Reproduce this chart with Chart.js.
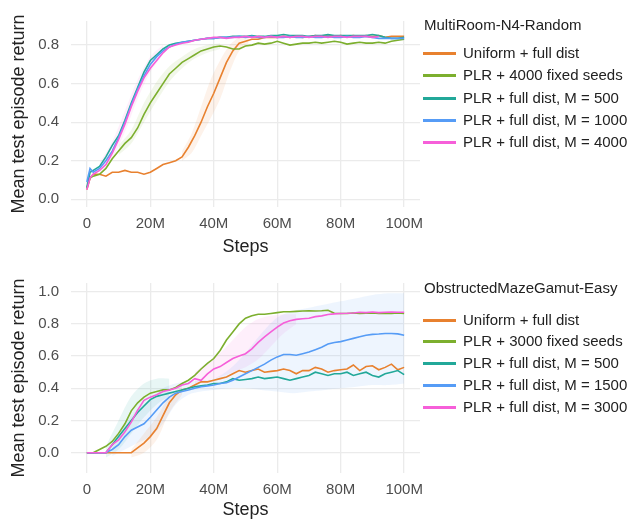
<!DOCTYPE html>
<html>
<head>
<meta charset="utf-8">
<script src="https://cdn.jsdelivr.net/npm/chart.js@4.4.1/dist/chart.umd.min.js"></script>
<style>
  html, body { margin: 0; padding: 0; background: #fff; }
  #wrap { position: relative; width: 638px; height: 523px; overflow: hidden; }
  canvas { position: absolute; left: 0; }
  .legend { position: absolute; left: 423px; font-family: "Liberation Sans", Arial, sans-serif; font-size: 15px; color: #222; }
  .legend .title { position: absolute; left: 1px; white-space: nowrap; line-height: 18px; }
  .legend .item { position: absolute; left: 0; white-space: nowrap; line-height: 18px; height: 18px; }
  .legend .swatch { position: absolute; left: 0; top: 8px; width: 33px; height: 3px; }
  .legend .label { position: absolute; left: 40px; top: 0; }
</style>
</head>
<body>
<div id="wrap">
  <canvas id="top-chart" width="638" height="260" style="top:0"></canvas>
  <canvas id="bottom-chart" width="638" height="263" style="top:260px"></canvas>
  <div class="legend" id="top-legend" style="top:0"></div>
  <div class="legend" id="bottom-legend" style="top:260px"></div>
</div>
<script>
// Steps in millions
const steps = [0, 1, 2, 4, 6, 8, 10, 12, 14, 16, 18, 20, 22, 24, 26, 28, 30, 32, 34, 36, 38, 40,
  42, 44, 46, 48, 50, 52, 54, 56, 58, 60, 62, 64, 66, 68, 70, 72, 74, 76, 78, 80,
  82, 84, 86, 88, 90, 92, 94, 96, 98, 100];

const xTicks = [0, 20, 40, 60, 80, 100];
const topYTicks = [0, 0.2, 0.4, 0.6, 0.8];
const bottomYTicks = [0, 0.2, 0.4, 0.6, 0.8, 1.0];

const colors = ['#e8812f', '#7caf2e', '#22a899', '#569cf6', '#f65fd9'];

// MultiRoom-N4-Random
const topTitle = 'MultiRoom-N4-Random';
const topLabels = ['Uniform + full dist', 'PLR + 4000 fixed seeds', 'PLR + full dist, M = 500',
  'PLR + full dist, M = 1000', 'PLR + full dist, M = 4000'];

const topUniform = [0.05, 0.11, 0.13, 0.13, 0.12, 0.14, 0.14, 0.15, 0.14, 0.14, 0.13, 0.14, 0.16, 0.18,
  0.19, 0.20, 0.22, 0.27, 0.33, 0.40, 0.48, 0.55, 0.63, 0.71, 0.77, 0.81, 0.82, 0.83, 0.83, 0.84,
  0.84, 0.84, 0.845, 0.84, 0.845, 0.84, 0.845, 0.85, 0.845, 0.85, 0.845, 0.85, 0.845, 0.85, 0.845,
  0.85, 0.845, 0.85, 0.84, 0.845, 0.845, 0.845];
const topFixed = [0.06, 0.11, 0.12, 0.13, 0.16, 0.21, 0.25, 0.29, 0.32, 0.37, 0.44, 0.50, 0.55, 0.60,
  0.65, 0.68, 0.71, 0.73, 0.75, 0.77, 0.78, 0.79, 0.795, 0.79, 0.78, 0.78, 0.795, 0.80, 0.81, 0.805,
  0.81, 0.82, 0.81, 0.80, 0.805, 0.81, 0.81, 0.815, 0.81, 0.815, 0.82, 0.815, 0.805, 0.81, 0.815,
  0.81, 0.81, 0.815, 0.81, 0.82, 0.825, 0.83];
const topM500 = [0.06, 0.14, 0.15, 0.17, 0.22, 0.28, 0.33, 0.41, 0.50, 0.58, 0.66, 0.72, 0.75, 0.78,
  0.80, 0.81, 0.815, 0.82, 0.825, 0.83, 0.835, 0.835, 0.84, 0.84, 0.845, 0.845, 0.845, 0.85, 0.845,
  0.845, 0.85, 0.85, 0.855, 0.85, 0.85, 0.85, 0.845, 0.85, 0.85, 0.855, 0.85, 0.85, 0.85, 0.85,
  0.85, 0.85, 0.855, 0.85, 0.84, 0.835, 0.835, 0.84];
const topM1000 = [0.09, 0.16, 0.14, 0.16, 0.20, 0.25, 0.32, 0.40, 0.49, 0.57, 0.64, 0.70, 0.74, 0.77,
  0.79, 0.805, 0.815, 0.82, 0.825, 0.83, 0.835, 0.835, 0.84, 0.84, 0.84, 0.845, 0.84, 0.845, 0.84,
  0.84, 0.845, 0.84, 0.84, 0.845, 0.84, 0.84, 0.845, 0.84, 0.84, 0.845, 0.84, 0.84, 0.845, 0.84,
  0.84, 0.845, 0.84, 0.835, 0.835, 0.835, 0.835, 0.835];
const topM4000 = [0.05, 0.11, 0.13, 0.15, 0.18, 0.24, 0.31, 0.39, 0.48, 0.56, 0.63, 0.68, 0.72, 0.76,
  0.79, 0.80, 0.81, 0.815, 0.825, 0.83, 0.835, 0.84, 0.84, 0.835, 0.84, 0.84, 0.845, 0.84, 0.845,
  0.84, 0.845, 0.84, 0.845, 0.84, 0.845, 0.845, 0.84, 0.845, 0.845, 0.84, 0.845, 0.845, 0.84, 0.845,
  0.845, 0.845, 0.84, 0.845, null, null, null, null];

// shaded spread bands (x in millions, lower, upper)
const topUniformBandX = [30, 33, 36, 39, 42, 45, 48, 51];
const topUniformBandLo = [0.20, 0.24, 0.33, 0.42, 0.52, 0.66, 0.77, 0.81];
const topUniformBandHi = [0.25, 0.34, 0.48, 0.62, 0.72, 0.80, 0.84, 0.85];
const topFixedBandX = [10, 14, 18, 22, 26, 30, 34, 38, 42];
const topFixedBandLo = [0.23, 0.29, 0.40, 0.51, 0.61, 0.68, 0.73, 0.76, 0.78];
const topFixedBandHi = [0.28, 0.36, 0.50, 0.61, 0.69, 0.74, 0.78, 0.80, 0.81];
const topM4000BandX = [4, 8, 12, 16, 20, 24];
const topM4000BandLo = [0.13, 0.21, 0.35, 0.52, 0.66, 0.75];
const topM4000BandHi = [0.19, 0.30, 0.46, 0.62, 0.74, 0.80];

// ObstructedMazeGamut-Easy
const bottomTitle = 'ObstructedMazeGamut-Easy';
const bottomLabels = ['Uniform + full dist', 'PLR + 3000 fixed seeds', 'PLR + full dist, M = 500',
  'PLR + full dist, M = 1500', 'PLR + full dist, M = 3000'];

const botUniform = [0, 0, 0, 0, 0, 0, 0, 0, 0, 0.03, 0.06, 0.10, 0.15, 0.23, 0.31, 0.36, 0.39, 0.40,
  0.42, 0.44, 0.44, 0.45, 0.46, 0.47, 0.49, 0.51, 0.50, 0.51, 0.52, 0.50, 0.505, 0.51, 0.52, 0.51,
  0.49, 0.51, 0.51, 0.53, 0.52, 0.50, 0.51, 0.515, 0.52, 0.545, 0.51, 0.535, 0.54, 0.515, 0.53,
  0.55, 0.515, 0.53];
const botFixed = [0, 0, 0, 0.02, 0.04, 0.07, 0.12, 0.18, 0.26, 0.31, 0.345, 0.37, 0.38, 0.39, 0.39,
  0.405, 0.43, 0.45, 0.48, 0.52, 0.555, 0.585, 0.635, 0.70, 0.75, 0.80, 0.835, 0.85, 0.86, 0.86,
  0.865, 0.87, 0.875, 0.875, 0.878, 0.88, 0.882, 0.88, 0.882, 0.885, 0.866, 0.865, 0.865, 0.868,
  0.865, 0.866, 0.868, 0.865, 0.866, 0.865, 0.868, 0.865];
const botM500 = [0, 0, 0, 0, 0, 0.05, 0.10, 0.15, 0.20, 0.25, 0.29, 0.33, 0.35, 0.36, 0.37, 0.38,
  0.39, 0.40, 0.41, 0.415, 0.42, 0.43, 0.43, 0.44, 0.46, 0.45, 0.455, 0.46, 0.47, 0.46, 0.465, 0.47,
  0.46, 0.45, 0.46, 0.47, 0.48, 0.50, 0.49, 0.48, 0.49, 0.49, 0.50, 0.48, 0.49, 0.50, 0.48, 0.47,
  0.49, 0.50, 0.51, 0.485];
const botM1500 = [0, 0, 0, 0, 0, 0.02, 0.05, 0.10, 0.14, 0.16, 0.18, 0.22, 0.265, 0.31, 0.345, 0.37,
  0.38, 0.39, 0.40, 0.41, 0.415, 0.42, 0.43, 0.435, 0.45, 0.47, 0.49, 0.51, 0.53, 0.55, 0.575, 0.595,
  0.61, 0.61, 0.605, 0.615, 0.625, 0.64, 0.655, 0.675, 0.685, 0.69, 0.70, 0.71, 0.72, 0.73, 0.735,
  0.737, 0.74, 0.74, 0.738, 0.73];
const botM3000 = [0, 0, 0, 0, 0, 0.05, 0.08, 0.13, 0.19, 0.265, 0.325, 0.345, 0.36, 0.38, 0.39, 0.40,
  0.42, 0.43, 0.46, 0.45, 0.49, 0.52, 0.535, 0.56, 0.585, 0.60, 0.615, 0.645, 0.685, 0.72, 0.75,
  0.78, 0.805, 0.82, 0.828, 0.832, 0.835, 0.845, 0.85, 0.858, 0.862, 0.865, 0.866, 0.868, 0.872,
  0.87, 0.874, 0.87, 0.872, 0.874, 0.872, 0.872];

const botUniformBandX = [14, 18, 22, 26, 30];
const botUniformBandLo = [-0.03, 0.0, 0.08, 0.25, 0.36];
const botUniformBandHi = [0.02, 0.12, 0.22, 0.35, 0.42];
const botM500BandX = [6, 10, 14, 18, 22, 26];
const botM500BandLo = [-0.03, 0.02, 0.12, 0.22, 0.30, 0.35];
const botM500BandHi = [0.04, 0.20, 0.35, 0.43, 0.46, 0.46];
const botM1500BandX = [8, 12, 16, 20, 24, 28, 32, 36, 40, 45, 50, 55, 60, 65, 70, 75, 80, 85, 90, 95, 100];
const botM1500BandLo = [-0.02, 0.02, 0.06, 0.10, 0.18, 0.30, 0.36, 0.38, 0.39, 0.40, 0.40, 0.39, 0.38,
  0.37, 0.38, 0.39, 0.40, 0.41, 0.42, 0.42, 0.43];
const botM1500BandHi = [0.05, 0.18, 0.27, 0.33, 0.40, 0.43, 0.44, 0.45, 0.46, 0.52, 0.62, 0.74, 0.84,
  0.88, 0.90, 0.92, 0.94, 0.96, 0.98, 0.99, 0.99];
const botM3000BandX = [34, 38, 42, 46, 50, 54, 58, 62, 66];
const botM3000BandLo = [0.42, 0.45, 0.47, 0.50, 0.53, 0.58, 0.66, 0.74, 0.80];
const botM3000BandHi = [0.50, 0.56, 0.62, 0.70, 0.78, 0.83, 0.85, 0.86, 0.86];

Chart.defaults.font.family = '"Liberation Sans", Arial, sans-serif';

function toPoints(xs, ys) {
    return xs.map((x, i) => ({ x: x, y: ys[i] }));
}

function hexToRgba(hex, a) {
    const n = parseInt(hex.slice(1), 16);
    return `rgba(${(n >> 16) & 255}, ${(n >> 8) & 255}, ${n & 255}, ${a})`;
}

function bandDatasets(xs, lo, hi, color) {
    return [
        { data: toPoints(xs, lo), borderWidth: 0, pointRadius: 0, fill: false, order: 10, tension: 0.3 },
        { data: toPoints(xs, hi), borderWidth: 0, pointRadius: 0, fill: '-1', order: 10, tension: 0.3,
          backgroundColor: hexToRgba(color, 0.1) }
    ];
}

function lineDataset(ys, idx) {
    return {
        data: toPoints(steps, ys),
        borderColor: colors[idx],
        borderWidth: 1.6,
        pointRadius: 0,
        fill: false,
        order: 5 - idx
    };
}

function makeChart(canvasId, series, bands, yMin, yMax, yTicks, topPad, xAxisHeight) {
    const datasets = [];
    bands.forEach(b => datasets.push(...bandDatasets(b[0], b[1], b[2], b[3])));
    series.forEach((s, i) => datasets.push(lineDataset(s, i)));

    return new Chart(document.getElementById(canvasId), {
        type: 'line',
        data: { datasets: datasets },
        options: {
            responsive: false,
            animation: false,
            devicePixelRatio: 1,
            layout: { padding: { left: 0, right: 218, top: topPad, bottom: 0 } },
            plugins: { legend: { display: false }, tooltip: { enabled: false } },
            scales: {
                x: {
                    type: 'linear',
                    min: -5,
                    max: 105,
                    afterBuildTicks: scale => { scale.ticks = xTicks.map(v => ({ value: v })); },
                    afterFit: scale => { scale.height = xAxisHeight; },
                    grid: { color: '#ebebeb', lineWidth: 1.3, drawTicks: false },
                    border: { display: false },
                    ticks: {
                        padding: 8,
                        color: '#4d4d4d',
                        font: { size: 15 },
                        callback: v => v === 0 ? '0' : v + 'M'
                    },
                    title: {
                        display: true,
                        text: 'Steps',
                        color: '#222',
                        font: { size: 18 },
                        padding: { top: 0, bottom: 2 }
                    }
                },
                y: {
                    min: yMin,
                    max: yMax,
                    afterBuildTicks: scale => { scale.ticks = yTicks.map(v => ({ value: v })); },
                    afterFit: scale => { scale.width = 71; },
                    grid: { color: '#ebebeb', lineWidth: 1.3, drawTicks: false },
                    border: { display: false },
                    ticks: {
                        padding: 12,
                        color: '#4d4d4d',
                        font: { size: 15 },
                        callback: v => v.toFixed(1)
                    },
                    title: {
                        display: true,
                        text: 'Mean test episode return',
                        color: '#222',
                        font: { size: 18 },
                        padding: { top: 8, bottom: 0 }
                    }
                }
            }
        }
    });
}

function buildLegend(elId, title, labels, titleY, itemYs) {
    const el = document.getElementById(elId);
    let html = `<div class="title" style="top:${titleY - 9}px">${title}</div>`;
    labels.forEach((label, i) => {
        html += `<div class="item" style="top:${itemYs[i] - 9}px">` +
            `<span class="swatch" style="background:${colors[i]}"></span>` +
            `<span class="label">${label}</span></div>`;
    });
    el.innerHTML = html;
}

makeChart('top-chart',
    [topUniform, topFixed, topM500, topM1000, topM4000],
    [
        [topUniformBandX, topUniformBandLo, topUniformBandHi, colors[0]],
        [topFixedBandX, topFixedBandLo, topFixedBandHi, colors[1]],
        [topM4000BandX, topM4000BandLo, topM4000BandHi, colors[4]]
    ],
    -0.04, 0.925, topYTicks, 15, 53);

makeChart('bottom-chart',
    [botUniform, botFixed, botM500, botM1500, botM3000],
    [
        [botUniformBandX, botUniformBandLo, botUniformBandHi, colors[0]],
        [botM500BandX, botM500BandLo, botM500BandHi, colors[2]],
        [botM1500BandX, botM1500BandLo, botM1500BandHi, colors[3]],
        [botM3000BandX, botM3000BandLo, botM3000BandHi, colors[4]]
    ],
    -0.126, 1.054, bottomYTicks, 23, 50);

buildLegend('top-legend', topTitle, topLabels, 25, [53, 75, 98, 120, 142]);
buildLegend('bottom-legend', bottomTitle, bottomLabels, 28, [60, 81, 103, 125, 147]);
</script>
</body>
</html>
